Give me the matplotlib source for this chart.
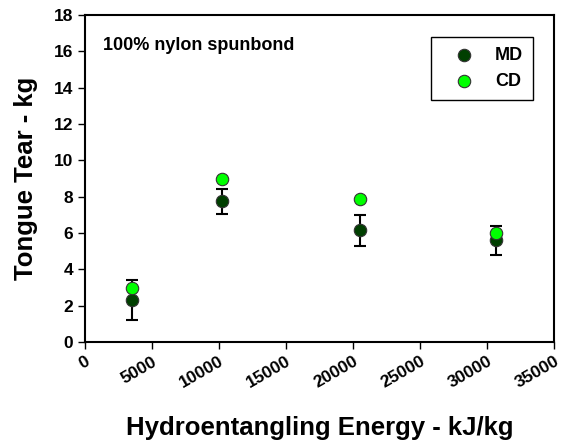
import numpy as np
import matplotlib
matplotlib.use("Agg")
import matplotlib.pyplot as plt

# Tongue tear vs hydroentangling energy, 100% nylon spunbond

energy = [3500, 10200, 20500, 30700]
md_tear = [2.3, 7.75, 6.15, 5.6]
md_err = [1.1, 0.7, 0.85, 0.8]
cd_tear = [3.0, 8.95, 7.85, 6.0]

plt.rcParams['font.family'] = ['Liberation Sans', 'DejaVu Sans']
plt.rcParams['font.weight'] = 'bold'

fig = plt.figure(figsize=(5.63, 4.43), dpi=100)
ax = fig.add_axes([0.151, 0.228, 0.833, 0.738])

ax.errorbar(energy, md_tear, yerr=md_err, fmt='none', ecolor='black',
            elinewidth=1.5, capsize=4, capthick=1.5, zorder=2)
ax.scatter(energy, md_tear, s=80, color='#003f00', edgecolors='#333333',
           linewidths=0.8, zorder=3, label='MD')
ax.scatter(energy, cd_tear, s=80, color='#00ff00', edgecolors='#333333',
           linewidths=0.8, zorder=3, label='CD')

ax.set_xlim(0, 35000)
ax.set_ylim(0, 18)
ax.set_xticks(np.arange(0, 35001, 5000))
ax.set_yticks(np.arange(0, 19, 2))
ax.tick_params(direction='out', length=5, width=1, labelsize=12.5)
for lbl in ax.get_xticklabels():
    lbl.set_rotation(30)
    lbl.set_ha('right')
    lbl.set_rotation_mode('anchor')
for sp in ax.spines.values():
    sp.set_linewidth(1.5)

ax.set_xlabel('Hydroentangling Energy - kJ/kg', fontsize=18.5, fontweight='bold', labelpad=18)
ax.set_ylabel('Tongue Tear - kg', fontsize=18.5, fontweight='bold', labelpad=11)

ax.text(0.038, 0.908, '100% nylon spunbond', transform=ax.transAxes,
        fontsize=13, fontweight='bold', va='center')

leg = ax.legend(loc='upper right', bbox_to_anchor=(0.955, 0.933), borderaxespad=0,
                fancybox=False, framealpha=1, edgecolor='black', fontsize=13,
                handletextpad=0.4, borderpad=0.55, labelspacing=0.5, handlelength=2.6)
leg.get_frame().set_linewidth(1)
for t in leg.get_texts():
    t.set_fontweight('bold')

fig.savefig('out.png', dpi=100)
